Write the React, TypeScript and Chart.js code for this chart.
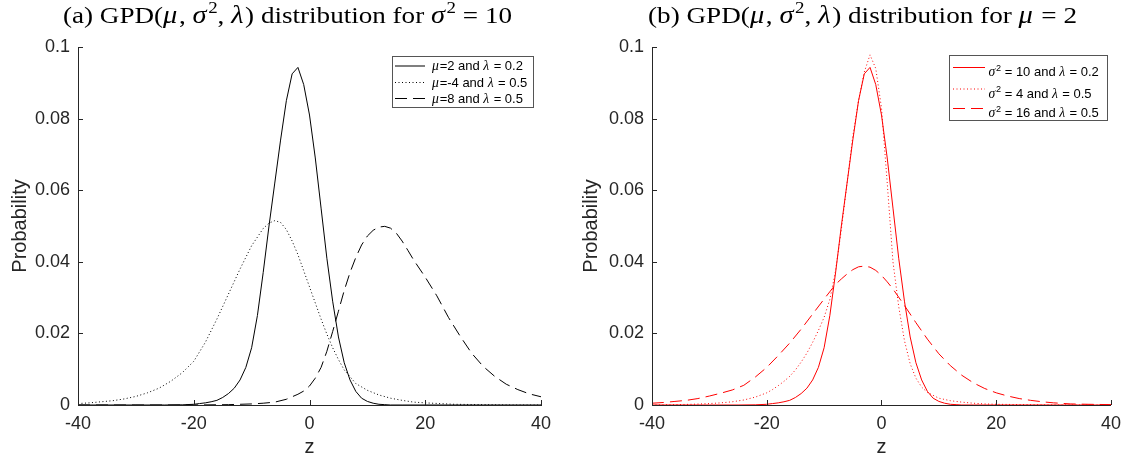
import React, { useEffect, useRef } from "react";
import { Chart, registerables } from "chart.js";
Chart.register(...registerables);

// ---------- data ----------
const xTicks = [-40, -20, 0, 20, 40];
const yTicks = [0, 0.02, 0.04, 0.06, 0.08, 0.1];
const yTickLabels = ["0", "0.02", "0.04", "0.06", "0.08", "0.1"];

// mu=2, sigma^2=10, lambda=0.2 (used in both panels)
const zSolid = [-40, -30, -25, -22, -20, -19, -18, -17, -16, -15, -14, -13, -12, -11, -10, -9, -8, -7, -6, -5, -4, -3, -2, -1, 0, 1, 2, 3, 4, 5, 6, 7, 8, 9, 10, 11, 12, 13, 14, 16, 20, 30, 40];
const pSolid = [0, 0, 0, 0.00005, 0.0002, 0.0004, 0.0006, 0.0009, 0.0013, 0.0021, 0.0032, 0.0047, 0.007, 0.0105, 0.016, 0.025, 0.037, 0.05, 0.062, 0.074, 0.085, 0.0925, 0.0943, 0.0895, 0.081, 0.069, 0.055, 0.041, 0.029, 0.019, 0.0118, 0.007, 0.0038, 0.0019, 0.001, 0.0005, 0.0002, 0.0001, 0, 0, 0, 0, 0];

// mu=-4, sigma^2=10, lambda=0.5
const zMuMinus4 = [-40, -38, -36, -34, -32, -30, -28, -26, -24, -22, -20, -18, -16, -14, -12, -10, -8, -7, -6, -5, -4, -3, -2, -1, 0, 1, 2, 3, 4, 5, 6, 8, 10, 12, 14, 16, 18, 20, 25, 30, 35, 40];
const pMuMinus4 = [0.0004, 0.0006, 0.0009, 0.0012, 0.0017, 0.0024, 0.0034, 0.0047, 0.0066, 0.009, 0.0122, 0.0175, 0.024, 0.031, 0.038, 0.0445, 0.0493, 0.0508, 0.0515, 0.051, 0.049, 0.0458, 0.042, 0.0375, 0.033, 0.0285, 0.024, 0.0198, 0.016, 0.0127, 0.0098, 0.006, 0.0041, 0.0028, 0.0019, 0.0013, 0.0008, 0.0006, 0.0002, 0.0001, 0, 0];

// mu=8, sigma^2=10, lambda=0.5
const zMu8 = [-40, -20, -14, -12, -10, -8, -6, -4, -2, -1, 0, 1, 2, 3, 4, 5, 6, 7, 8, 9, 10, 11, 12, 13, 14, 15, 16, 17, 18, 20, 22, 24, 26, 28, 30, 32, 34, 36, 38, 40];
const pMu8 = [0, 0, 0.0001, 0.0002, 0.0003, 0.0005, 0.0008, 0.0016, 0.003, 0.0039, 0.0053, 0.0075, 0.0105, 0.015, 0.0205, 0.0262, 0.032, 0.037, 0.0412, 0.0447, 0.0472, 0.0488, 0.0497, 0.0499, 0.0494, 0.048, 0.0458, 0.0432, 0.0405, 0.0357, 0.0305, 0.0245, 0.0193, 0.0145, 0.0108, 0.008, 0.0058, 0.0043, 0.0031, 0.0023];

// mu=2, sigma^2=4, lambda=0.5
const zSig4 = [-40, -36, -33, -30, -28, -26, -24, -22, -20, -19, -18, -17, -16, -15, -14, -13, -12, -11, -10, -9, -8, -7, -6, -5, -4, -3, -2, -1, 0, 1, 2, 3, 4, 5, 6, 7, 8, 10, 12, 14, 16, 18, 20, 25, 30, 40];
const pSig4 = [0, 0.0001, 0.0002, 0.0004, 0.0006, 0.0009, 0.0014, 0.0022, 0.0034, 0.0043, 0.0054, 0.0066, 0.008, 0.0098, 0.012, 0.0145, 0.0175, 0.0208, 0.0245, 0.0295, 0.0375, 0.049, 0.062, 0.075, 0.085, 0.093, 0.0978, 0.094, 0.083, 0.062, 0.04, 0.0275, 0.018, 0.0115, 0.0075, 0.005, 0.0035, 0.0019, 0.0012, 0.0008, 0.0005, 0.0003, 0.0002, 0.0001, 0, 0];

// mu=2, sigma^2=16, lambda=0.5
const zSig16 = [-40, -38, -36, -34, -32, -30, -28, -26, -24, -22, -20, -18, -16, -14, -12, -10, -8, -7, -6, -5, -4, -3, -2, -1, 0, 1, 2, 4, 6, 8, 10, 12, 14, 16, 18, 20, 22, 24, 26, 28, 30, 33, 36, 40];
const pSig16 = [0.0005, 0.0007, 0.001, 0.0013, 0.0018, 0.0025, 0.0033, 0.0042, 0.0055, 0.0078, 0.0105, 0.0138, 0.0173, 0.0212, 0.0254, 0.0296, 0.0337, 0.0352, 0.0366, 0.0378, 0.0386, 0.0388, 0.0385, 0.0376, 0.0362, 0.0344, 0.0324, 0.0278, 0.023, 0.0184, 0.0143, 0.011, 0.0083, 0.0062, 0.0046, 0.0034, 0.0025, 0.0018, 0.0013, 0.0009, 0.0006, 0.0003, 0.0002, 0.0001];

const leftLabels = ["μ=2 and λ = 0.2", "μ=-4 and λ = 0.5", "μ=8 and λ = 0.5"];
const rightLabels = ["σ² = 10 and λ = 0.2", "σ² = 4 and λ = 0.5", "σ² = 16 and λ = 0.5"];
const titleA = "(a) GPD(μ, σ², λ) distribution for σ² = 10";
const titleB = "(b) GPD(μ, σ², λ) distribution for μ = 2";
const xLabel = "z";
const yLabel = "Probability";

// ---------- styles ----------
const AXIS = "#262626";
const SANS = "'Liberation Sans', Arial, Helvetica, sans-serif";
const SERIF = "'Liberation Serif', 'DejaVu Serif', serif";
const DOT = [1, 2.5];
const DASH = [12, 6];
const BLACK = "#000000";
const RED = "#ff0000";

const pts = (zs: number[], ps: number[]) => zs.map((z, i) => ({ x: z, y: ps[i] }));

// ---------- rich text ----------
type Seg = { t: string; kind: "n" | "g" | "s" };
function toSegs(text: string): Seg[] {
  const out: Seg[] = [];
  for (const ch of text) {
    const kind: Seg["kind"] = /[μλσ]/.test(ch) ? "g" : ch === "²" ? "s" : "n";
    const last = out[out.length - 1];
    if (last && last.kind === "n" && kind === "n") last.t += ch;
    else out.push({ t: kind === "s" ? "2" : ch, kind });
  }
  return out;
}
function segFont(kind: Seg["kind"], size: number, base: string) {
  if (kind === "g") return `italic ${size * 1.05}px ${SERIF}`;
  if (kind === "s") return `${size * 0.7}px ${base}`;
  return `${size}px ${base}`;
}
function richWidth(ctx: CanvasRenderingContext2D, text: string, size: number, base: string) {
  let w = 0;
  for (const s of toSegs(text)) {
    ctx.font = segFont(s.kind, size, base);
    w += ctx.measureText(s.t).width + (s.kind === "g" ? size * 0.06 : 0);
  }
  return w;
}
function drawRich(ctx: CanvasRenderingContext2D, text: string, x: number, y: number, size: number, base: string) {
  let cx = x;
  for (const s of toSegs(text)) {
    ctx.font = segFont(s.kind, size, base);
    const dy = s.kind === "s" ? -size * 0.4 : 0;
    ctx.fillText(s.t, cx, y + dy);
    cx += ctx.measureText(s.t).width + (s.kind === "g" ? size * 0.06 : 0);
  }
}

// ---------- plugins ----------
const inwardTicks = {
  id: "inwardTicks",
  afterDatasetsDraw(chart: any) {
    const { ctx, chartArea: a, scales } = chart;
    const x = scales.x, y = scales.y;
    ctx.save();
    ctx.strokeStyle = AXIS;
    ctx.lineWidth = 1;
    ctx.beginPath();
    x.ticks.forEach((t: any) => {
      const px = Math.round(x.getPixelForValue(t.value)) + 0.5;
      ctx.moveTo(px, a.bottom);
      ctx.lineTo(px, a.bottom - 5);
    });
    y.ticks.forEach((t: any) => {
      const py = Math.round(y.getPixelForValue(t.value)) + 0.5;
      ctx.moveTo(a.left, py);
      ctx.lineTo(a.left + 5, py);
    });
    ctx.stroke();
    ctx.restore();
  },
};

const richTitle = {
  id: "richTitle",
  afterDraw(chart: any, _a: any, o: any) {
    const ctx = chart.ctx as CanvasRenderingContext2D;
    ctx.save();
    ctx.fillStyle = "#000";
    ctx.textBaseline = "alphabetic";
    ctx.textAlign = "left";
    const w = richWidth(ctx, o.text, o.size, SERIF);
    const sx = o.width / w;
    ctx.translate(o.cx - o.width / 2, o.y);
    ctx.scale(sx, 1);
    drawRich(ctx, o.text, 0, 0, o.size, SERIF);
    ctx.restore();
  },
};

const richLegend = {
  id: "richLegend",
  afterDraw(chart: any, _a: any, o: any) {
    const ctx = chart.ctx as CanvasRenderingContext2D;
    const stroke = o.red ? RED : BLACK;
    ctx.save();
    ctx.fillStyle = "#fff";
    ctx.fillRect(o.x, o.y, o.w, o.h);
    ctx.strokeStyle = "#555";
    ctx.lineWidth = 1;
    ctx.strokeRect(o.x + 0.5, o.y + 0.5, o.w, o.h);
    chart.data.datasets.forEach((ds: any, i: number) => {
      const ly = o.rows[i];
      if (i === 0) {
        ctx.fillStyle = stroke;
        ctx.fillRect(o.x1, ly, o.x2 - o.x1, 1);
      } else {
        ctx.strokeStyle = stroke;
        ctx.lineWidth = 1;
        ctx.setLineDash(i === 1 ? DOT : DASH);
        ctx.beginPath();
        ctx.moveTo(o.x1, ly + 0.5);
        ctx.lineTo(o.x2, ly + 0.5);
        ctx.stroke();
        ctx.setLineDash([]);
      }
      ctx.fillStyle = "#000";
      ctx.textBaseline = "alphabetic";
      ctx.textAlign = "left";
      drawRich(ctx, ds.label, o.tx, ly + o.dy, o.size, SANS);
    });
    ctx.restore();
  },
};

function makeConfig(datasets: any[], o: any): any {
  const tickFont = { family: SANS, size: 18 };
  return {
    type: "line",
    data: { datasets },
    options: {
      animation: false,
      responsive: false,
      maintainAspectRatio: false,
      parsing: false,
      normalized: true,
      layout: { padding: { top: o.top, right: o.right, left: 0, bottom: 0 } },
      elements: { point: { radius: 0 }, line: { tension: 0, borderWidth: 1 } },
      plugins: {
        legend: { display: false },
        tooltip: { enabled: false },
        title: { display: false },
        richTitle: { text: o.title, cx: o.titleCx, width: o.titleW, y: 23, size: 24 },
        richLegend: o.legend,
      },
      scales: {
        x: {
          type: "linear",
          min: -40,
          max: 40,
          afterBuildTicks: (s: any) => { s.ticks = xTicks.map((v) => ({ value: v })); },
          ticks: { color: AXIS, font: tickFont, padding: 8, maxRotation: 0, callback: (v: number) => String(v) },
          grid: { display: true, drawOnChartArea: false, drawTicks: false },
          border: { display: true, color: AXIS, width: 1 },
          title: { display: true, text: xLabel, color: AXIS, font: { family: SANS, size: 20 }, padding: { top: 0, bottom: 1 } },
          afterFit: (s: any) => { s.height = 55; },
        },
        y: {
          type: "linear",
          min: 0,
          max: 0.1,
          afterBuildTicks: (s: any) => { s.ticks = yTicks.map((v) => ({ value: v })); },
          ticks: { color: AXIS, font: tickFont, padding: 8, callback: (_v: number, i: number) => yTickLabels[i] },
          grid: { display: true, drawOnChartArea: false, drawTicks: false },
          border: { display: true, color: AXIS, width: 1 },
          title: { display: true, text: yLabel, color: AXIS, font: { family: SANS, size: 20 }, padding: { top: o.yTitlePad, bottom: 0 } },
          afterFit: (s: any) => { s.width = o.yWidth; },
        },
      },
    },
    plugins: [inwardTicks, richTitle, richLegend],
  };
}

function Panel({ width, cfg }: { width: number; cfg: any }) {
  const ref = useRef<HTMLCanvasElement>(null);
  useEffect(() => {
    const chart = new Chart(ref.current as HTMLCanvasElement, cfg);
    return () => chart.destroy();
  }, []);
  return <canvas ref={ref} width={width} height={460} style={{ display: "block", width, height: 460 }} />;
}

export default function App() {
  const leftSets = [
    { label: leftLabels[0], data: pts(zSolid, pSolid), borderColor: BLACK, borderWidth: 1, borderDash: [] },
    { label: leftLabels[1], data: pts(zMuMinus4, pMuMinus4), borderColor: BLACK, borderWidth: 1, borderDash: DOT },
    { label: leftLabels[2], data: pts(zMu8, pMu8), borderColor: BLACK, borderWidth: 1, borderDash: DASH },
  ];
  const rightSets = [
    { label: rightLabels[0], data: pts(zSolid, pSolid), borderColor: RED, borderWidth: 1, borderDash: [] },
    { label: rightLabels[1], data: pts(zSig4, pSig4), borderColor: RED, borderWidth: 1, borderDash: DOT },
    { label: rightLabels[2], data: pts(zSig16, pSig16), borderColor: RED, borderWidth: 1, borderDash: DASH },
  ];
  const leftCfg = makeConfig(leftSets, {
    top: 47, right: 24, yWidth: 78, yTitlePad: 8, title: titleA, titleCx: 287.5, titleW: 449,
    legend: { x: 392, y: 56, w: 141, h: 51, rows: [65.5, 82, 98], x1: 395, x2: 425, tx: 432, dy: 4.5, size: 13, red: false },
  });
  const rightCfg = makeConfig(rightSets, {
    top: 47, right: 17, yWidth: 87, yTitlePad: 14, title: titleB, titleCx: 297.5, titleW: 429,
    legend: { x: 384, y: 55, w: 158, h: 65, rows: [67, 88.5, 108], x1: 388, x2: 420, tx: 423.5, dy: 9, size: 13, red: true },
  });
  return (
    <div style={{ position: "absolute", left: 0, top: 0, width: 1129, height: 460, display: "flex", background: "#fff" }}>
      <Panel width={565} cfg={leftCfg} />
      <Panel width={564} cfg={rightCfg} />
    </div>
  );
}
